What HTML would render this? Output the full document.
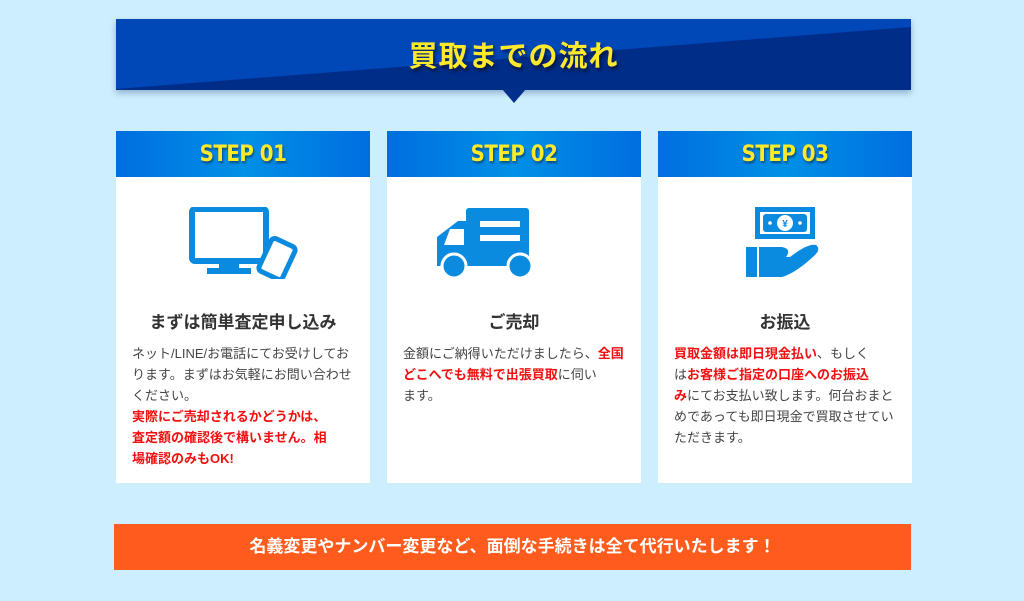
<!DOCTYPE html>
<html><head><meta charset="utf-8"><style>
*{margin:0;padding:0;box-sizing:border-box}
body{width:1024px;height:601px;background:#cdeefd;position:relative;overflow:hidden;font-family:"Liberation Sans","Noto Sans CJK JP",sans-serif}
.banner{position:absolute;left:116px;top:19px;width:795px;height:71px;box-shadow:0 3px 6px rgba(0,40,100,.3)}
.tri{position:absolute;left:502px;top:89px;width:0;height:0;border-left:12px solid transparent;border-right:12px solid transparent;border-top:14px solid #002f8c}
.title{position:absolute;left:116px;top:33px;width:795px;text-align:center;color:#ffe92a;font-size:29px;font-weight:bold;text-shadow:2px 3px 3px rgba(0,0,0,.5);letter-spacing:1px}
.card{position:absolute;top:131px;width:254px;height:352px;background:#fff}
.hd{height:46px;background:linear-gradient(90deg,#006ee0,#0090e6 50%,#006ee0);color:#ffe92a;font-weight:bold;font-size:22px;text-align:center;line-height:48px;text-shadow:1px 2px 2px rgba(0,0,0,.45);font-family:"DejaVu Sans Condensed","Liberation Sans",sans-serif;letter-spacing:-0.5px}
.ic{position:absolute;top:76px;left:0;width:254px;height:72px}
.t{position:absolute;top:177px;left:0;width:254px;text-align:center;font-size:17px;font-weight:bold;color:#333}
.b{position:absolute;top:212px;left:16px;width:240px;font-size:13px;line-height:21px;color:#444;white-space:nowrap;letter-spacing:0px}
.r{color:#f01010;font-weight:bold}
.bar{position:absolute;left:114px;top:524px;width:797px;height:46px;background:#ff5b1c;color:#fff;font-weight:bold;font-size:17px;text-align:center;line-height:46px}
</style></head><body>
<svg class="banner" viewBox="0 0 795 71" preserveAspectRatio="none"><rect width="795" height="71" fill="#002d88"/><polygon points="0,0 795,0 795,8 0,70" fill="#0047b8"/></svg>
<div class="tri"></div>
<div class="title">買取までの流れ</div>

<div class="card" style="left:116px"><div class="hd">STEP 01</div>
<svg class="ic" viewBox="0 0 254 72"><rect x="76" y="2" width="74" height="52" rx="3" fill="none" stroke="#0a8be0" stroke-width="6"/><rect x="103" y="54" width="20" height="8" fill="#0a8be0"/><rect x="91" y="61" width="44" height="6" fill="#0a8be0"/><rect x="148" y="34" width="26" height="36" rx="4" transform="rotate(25 161 52)" fill="#fff" stroke="#0a8be0" stroke-width="5"/></svg>
<div class="t">まずは簡単査定申し込み</div>
<div class="b">ネット/LINE/お電話にてお受けしてお<br>ります。まずはお気軽にお問い合わせ<br>ください。<br><span class="r">実際にご売却されるかどうかは、<br>査定額の確認後で構いません。相<br>場確認のみもOK!</span></div></div>

<div class="card" style="left:387px"><div class="hd">STEP 02</div>
<svg class="ic" viewBox="0 0 254 72"><rect x="79" y="1" width="63" height="58" rx="3" fill="#0a8be0"/><path d="M71 14 H85 V59 H50 V30 Z" fill="#0a8be0"/><path d="M63 22 H77 V38 H57 Z" fill="#fff"/><rect x="93" y="14" width="40" height="6" fill="#fff"/><rect x="93" y="28" width="40" height="6" fill="#fff"/><circle cx="67" cy="59" r="12" fill="#0a8be0" stroke="#fff" stroke-width="3"/><circle cx="133" cy="59" r="12" fill="#0a8be0" stroke="#fff" stroke-width="3"/></svg>
<div class="t">ご売却</div>
<div class="b">金額にご納得いただけましたら、<span class="r">全国</span><br><span class="r">どこへでも無料で出張買取</span>に伺い<br>ます。</div></div>

<div class="card" style="left:658px"><div class="hd">STEP 03</div>
<svg class="ic" viewBox="0 0 254 72"><rect x="97" y="0" width="60" height="32" fill="#0a8be0"/><rect x="102" y="5" width="50" height="22" fill="#fff"/><rect x="105" y="7" width="44" height="18" rx="3" fill="#0a8be0"/><circle cx="127" cy="16" r="8" fill="#fff"/><text x="127" y="20" font-size="10" font-weight="bold" text-anchor="middle" fill="#0a8be0">¥</text><circle cx="112" cy="16" r="1.8" fill="#fff"/><circle cx="142" cy="16" r="1.8" fill="#fff"/><rect x="88" y="40" width="11" height="30" fill="#0a8be0"/><path d="M101 40 H124 Q134 42 128 50 H114 H132 Q150 36 158 38 Q163 42 157 48 Q138 66 124 70 H101 Z" fill="#0a8be0"/></svg>
<div class="t">お振込</div>
<div class="b"><span class="r">買取金額は即日現金払い</span>、もしく<br>は<span class="r">お客様ご指定の口座へのお振込</span><br><span class="r">み</span>にてお支払い致します。何台おまと<br>めであっても即日現金で買取させてい<br>ただきます。</div></div>

<div class="bar">名義変更やナンバー変更など、面倒な手続きは全て代行いたします！</div>
</body></html>
